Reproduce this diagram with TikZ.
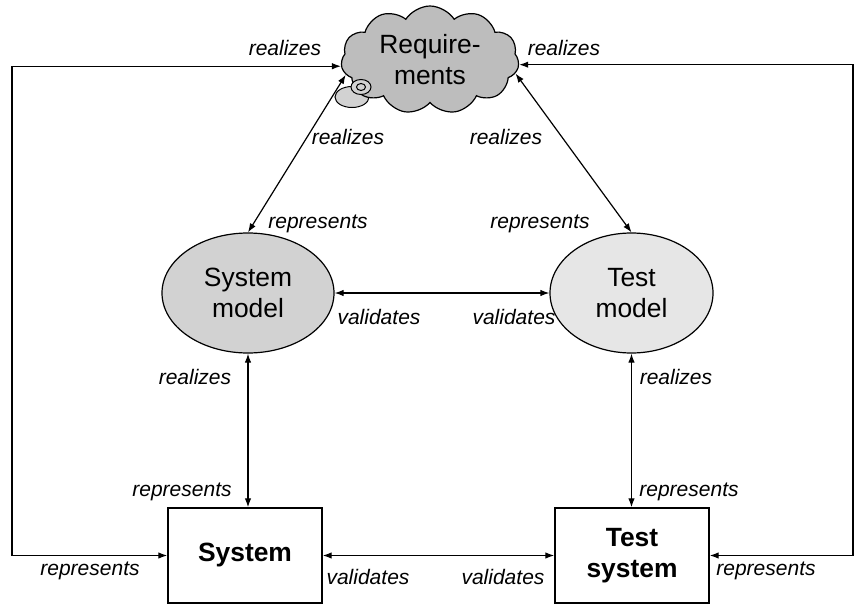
\documentclass[tikz,border=0pt]{standalone}
\usepackage{fontspec}
\setmainfont{Liberation Sans}
\usetikzlibrary{shapes.symbols,shapes.geometric,arrows.meta,positioning}
\definecolor{req-gray}{HTML}{BDBDBD}
\definecolor{sysm-gray}{HTML}{D2D2D2}
\definecolor{tm-gray}{HTML}{E6E6E6}

\tikzset{
  biarrow/.style={{Latex[length=9pt,width=6.5pt]}-{Latex[length=9pt,width=6.5pt]}, line width=1.2pt},
  lbl/.style={font=\fontsize{21}{24}\selectfont\itshape, inner sep=0pt},
  bigtext/.style={font=\fontsize{26.4}{31}\selectfont, align=center, inner sep=0pt},
  modelnode/.style={bigtext, draw, ellipse, line width=1.2pt},
  sysnode/.style={bigtext, draw, rectangle, line width=1.4pt, minimum width=154pt, minimum height=95pt, font=\fontsize{26.4}{31}\selectfont\bfseries}
}

\begin{document}
\begin{tikzpicture}[x=1pt,y=-1pt]
\useasboundingbox (0,0) rectangle (865,605);

% requirements cloud
\node[draw, ellipse, fill=sysm-gray, line width=1pt, minimum width=34pt, minimum height=21pt] (bub) at (352,97) {};
\node[bigtext, draw, cloud, cloud puffs=11, cloud puff arc=115, cloud ignores aspect, fill=req-gray, line width=1.2pt,
      minimum width=178pt, minimum height=108pt] (req) at (430,60) {Require-\\ments};
\node[draw, ellipse, fill=sysm-gray, line width=1pt, minimum width=20pt, minimum height=15pt, inner sep=0pt] (ring) at (361,87) {};
\node[draw, ellipse, line width=1pt, minimum width=9pt, minimum height=7pt, inner sep=0pt] (ringin) at (361,87) {};

% models
\node[modelnode, fill=sysm-gray, minimum width=172pt, minimum height=120pt] (sysm) at (248,293) {System\\model};
\node[modelnode, fill=tm-gray, minimum width=163pt, minimum height=120pt] (tm) at (631.5,293) {Test\\model};

% systems
\node[sysnode] (sys) at (245,555.5) {System};
\node[sysnode] (tsys) at (632,555.5) {Test\\system};

\coordinate (lft) at (12,0);
\coordinate (rgt) at (853,0);

% connectors
\draw[biarrow] (sys.west) -- (sys.west -| lft) |- (req.184);
\draw[biarrow] (tsys.east) -- (tsys.east -| rgt) |- (req.357);
\draw[biarrow] (req.190) -- (sysm.north);
\draw[biarrow] (req.351) -- (tm.north);
\draw[biarrow] (sysm.east) -- (tm.west);
\draw[biarrow] (sys.east) -- (tsys.west);
\draw[biarrow] (sysm.south) -- (sysm.south |- sys.north);
\draw[biarrow] (tm.south) -- (tm.south |- tsys.north);

% labels
\node[lbl] (l-real-tl) at (285,48) {realizes};
\node[lbl] (l-real-tr) at (564,48) {realizes};
\node[lbl] (l-real-ml) at (348,137) {realizes};
\node[lbl] (l-real-mr) at (506,137) {realizes};
\node[lbl] (l-rep-ml) at (318,224) {represents};
\node[lbl] (l-rep-mr) at (540,224) {represents};
\node[lbl] (l-val-ml) at (379,317) {validates};
\node[lbl] (l-val-mr) at (514,317) {validates};
\node[lbl] (l-real-bl) at (195,377) {realizes};
\node[lbl] (l-real-br) at (676,377) {realizes};
\node[lbl] (l-rep-bl) at (182,492) {represents};
\node[lbl] (l-rep-br) at (689,492) {represents};
\node[lbl] (l-rep-ll) at (90,571) {represents};
\node[lbl] (l-val-bl) at (368,577) {validates};
\node[lbl] (l-val-br) at (503,577) {validates};
\node[lbl] (l-rep-rr) at (766,571) {represents};
\end{tikzpicture}
\end{document}
